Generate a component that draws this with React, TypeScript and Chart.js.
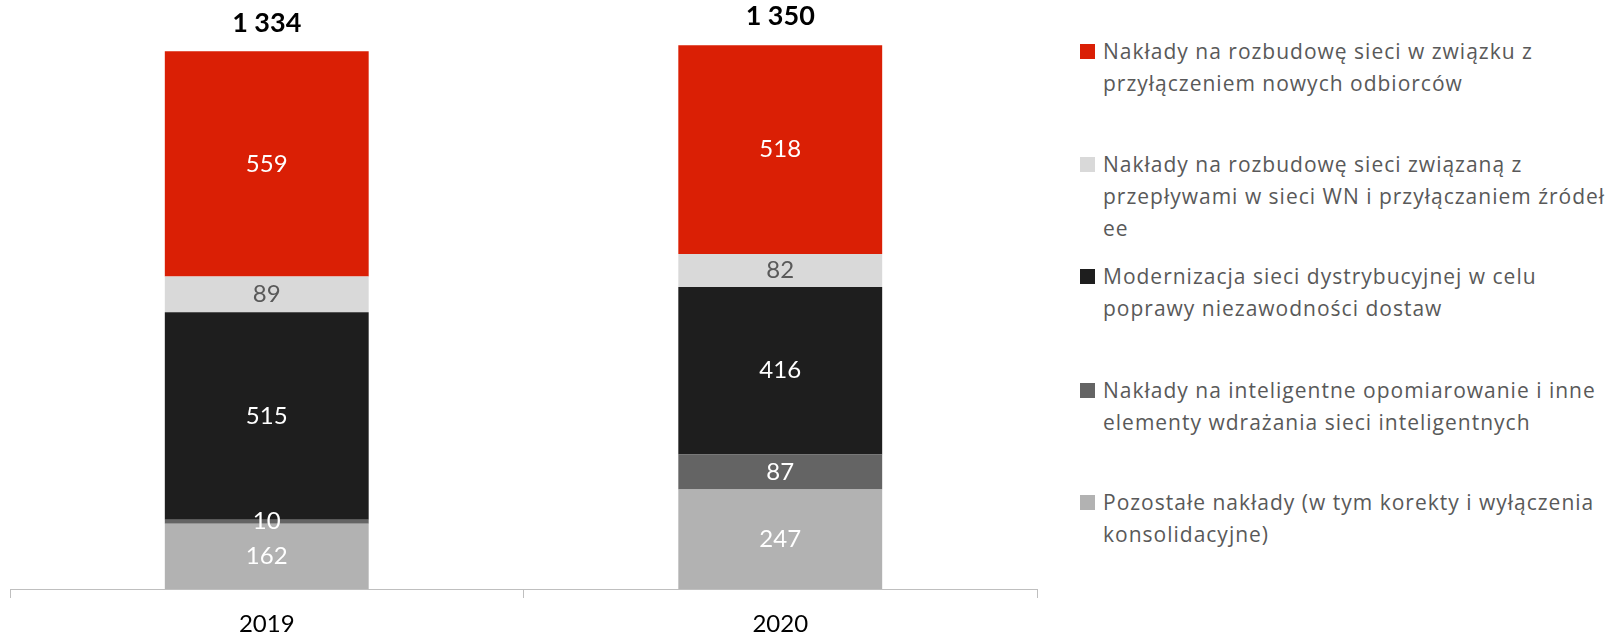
import React, { useEffect, useRef } from "react";
import { Chart, registerables } from "chart.js";

Chart.register(...registerables);

const categories = ["2019", "2020"];
const totalLabels = ["1 334", "1 350"];

const pozostale = [162, 247];
const inteligentne = [10, 87];
const modernizacja = [515, 416];
const przeplywy = [89, 82];
const przylaczenia = [559, 518];

const seriesNames = [
  "Pozostałe nakłady (w tym korekty i wyłączenia konsolidacyjne)",
  "Nakłady na inteligentne opomiarowanie i inne elementy wdrażania sieci inteligentnych",
  "Modernizacja sieci dystrybucyjnej w celu poprawy niezawodności dostaw",
  "Nakłady na rozbudowę sieci związaną z przepływami w sieci WN i przyłączaniem źródeł ee",
  "Nakłady na rozbudowę sieci w związku z przyłączeniem nowych odbiorców",
];
const seriesColors = ["#B2B2B2", "#646464", "#1E1E1E", "#D9D9D9", "#DA1F05"];
const labelColors = ["#FFFFFF", "#FFFFFF", "#FFFFFF", "#595959", "#FFFFFF"];

// legend (top to bottom) with its line breaks
const legendLines: { color: string; lines: string[]; top: number }[] = [
  { color: "#DA1F05", lines: ["Nakłady na rozbudowę sieci w związku z", "przyłączeniem nowych odbiorców"], top: 35 },
  { color: "#D9D9D9", lines: ["Nakłady na rozbudowę sieci związaną z", "przepływami w sieci WN i przyłączaniem źródeł", "ee"], top: 148 },
  { color: "#1E1E1E", lines: ["Modernizacja sieci dystrybucyjnej w celu", "poprawy niezawodności dostaw"], top: 260 },
  { color: "#646464", lines: ["Nakłady na inteligentne opomiarowanie i inne", "elementy wdrażania sieci inteligentnych"], top: 374 },
  { color: "#B2B2B2", lines: ["Pozostałe nakłady (w tym korekty i wyłączenia", "konsolidacyjne)"], top: 486 },
];

const FONT = "Lato, 'Open Sans', sans-serif";
const LEGEND_FONT = "'Open Sans', Lato, sans-serif";

const labelPlugin = {
  id: "segmentLabels",
  afterDatasetsDraw(chart: any) {
    const ctx = chart.ctx;
    ctx.save();
    ctx.textAlign = "center";
    ctx.textBaseline = "middle";
    chart.data.datasets.forEach((ds: any, di: number) => {
      const meta = chart.getDatasetMeta(di);
      meta.data.forEach((el: any, i: number) => {
        const y = (el.y + el.base) / 2;
        ctx.fillStyle = labelColors[di];
        ctx.font = `24px ${FONT}`;
        ctx.fillText(String(ds.data[i]), el.x, y);
      });
    });
    const last = chart.getDatasetMeta(chart.data.datasets.length - 1);
    last.data.forEach((el: any, i: number) => {
      ctx.fillStyle = "#000000";
      ctx.font = `bold 27px ${FONT}`;
      ctx.fillText(totalLabels[i], el.x, el.y - 28.5);
    });
    ctx.restore();
  },
};

export default function App() {
  const ref = useRef<HTMLCanvasElement | null>(null);
  useEffect(() => {
    if (!ref.current) return;
    const series = [pozostale, inteligentne, modernizacja, przeplywy, przylaczenia];
    const chart = new Chart(ref.current, {
      type: "bar",
      data: {
        labels: categories,
        datasets: series.map((d, i) => ({
          label: seriesNames[i],
          data: d,
          backgroundColor: seriesColors[i],
          borderWidth: 0,
          barPercentage: 0.397,
          categoryPercentage: 1,
        })),
      },
      options: {
        animation: false,
        responsive: true,
        maintainAspectRatio: false,
        layout: { padding: { left: 10, right: 10, top: 5, bottom: 0 } },
        plugins: { legend: { display: false }, tooltip: { enabled: false } },
        scales: {
          x: {
            stacked: true,
            afterFit: (s: any) => {
              s.height = 50;
            },
            grid: { drawOnChartArea: false, drawTicks: true, tickLength: 9, color: "#BFBFBF", offset: true },
            border: { display: true, color: "#BFBFBF" },
            ticks: { color: "#000000", font: { family: FONT, size: 24 }, padding: 12 },
          },
          y: { stacked: true, display: false, min: 0, max: 1450 },
        },
      },
      plugins: [labelPlugin],
    });
    return () => chart.destroy();
  }, []);

  return (
    <div style={{ position: "fixed", left: 0, top: 0, width: 1618, height: 639, background: "#fff" }}>
      <div style={{ position: "absolute", left: 0, top: 0, width: 1047, height: 639 }}>
        <canvas ref={ref} />
      </div>
      {legendLines.map((e, i) => (
        <div key={i} style={{ position: "absolute", left: 1080, top: e.top }}>
          <div style={{ position: "absolute", left: 0, top: 8.5, width: 15, height: 15, background: e.color }} />
          <div
            style={{
              position: "absolute",
              left: 23,
              top: 0,
              whiteSpace: "nowrap",
              fontFamily: LEGEND_FONT,
              fontSize: 21,
              letterSpacing: "1px",
              lineHeight: "32px",
              color: "#595959",
            }}
          >
            {e.lines.map((l, j) => (
              <div key={j}>{l}</div>
            ))}
          </div>
        </div>
      ))}
    </div>
  );
}
